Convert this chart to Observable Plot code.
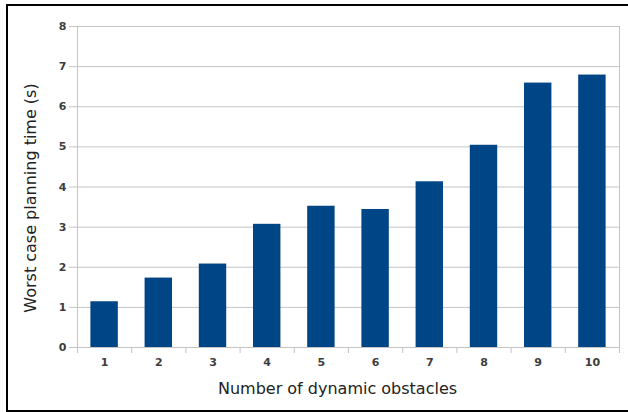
<!DOCTYPE html>
<html>
<head>
<meta charset="utf-8">
<script src="https://cdn.jsdelivr.net/npm/d3@7"></script>
<script src="https://cdn.jsdelivr.net/npm/@observablehq/plot@0.6"></script>
<style>
  html, body { margin: 0; padding: 0; width: 628px; height: 412px; overflow: hidden; background: #fff; }
  #border { position: absolute; left: 6px; top: 4px; width: 660px; height: 408px; border: 2px solid #000; box-sizing: border-box; }
  #chart { position: absolute; left: 0; top: 0; }
</style>
</head>
<body>
<div id="border"></div>
<div id="chart"></div>
<script>
const obstacles = [1, 2, 3, 4, 5, 6, 7, 8, 9, 10];
const planningTime = [1.14, 1.73, 2.08, 3.07, 3.52, 3.44, 4.13, 5.04, 6.59, 6.79];
const yTicks = [0, 1, 2, 3, 4, 5, 6, 7, 8];
const xLabel = "Number of dynamic obstacles";
const yLabel = "Worst case planning time (s)";

const data = obstacles.map((n, i) => ({n, t: planningTime[i]}));
const boundaries = [...obstacles.map(n => n - 0.5), obstacles[obstacles.length - 1] + 0.5];
const halfBar = 0.253;

const chart = Plot.plot({
  width: 628,
  height: 412,
  marginLeft: 77,
  marginRight: 9,
  marginTop: 26,
  marginBottom: 65,
  style: {fontFamily: "DejaVu Sans", fontSize: "11px", color: "#3d3d3d", background: "transparent"},
  x: {type: "linear", domain: [0.5, 10.5]},
  y: {domain: [0, 8]},
  marks: [
    Plot.gridY(yTicks, {stroke: "#c4c4c4", strokeOpacity: 1}),
    Plot.rectY(data, {x1: d => d.n - halfBar, x2: d => d.n + halfBar, y: "t", fill: "#004586"}),
    Plot.frame({stroke: "#c4c4c4"}),
    Plot.axisY(yTicks, {tickSize: 8, tickPadding: 3, stroke: "#c4c4c4", fill: "#3d3d3d", label: null, fontWeight: "bold"}),
    Plot.axisX(boundaries, {tickSize: 6, stroke: "#c4c4c4", tickFormat: () => "", label: null}),
    Plot.axisX(obstacles, {tickSize: 0, tickPadding: 11, fill: "#3d3d3d", label: null, fontWeight: "bold"}),
    Plot.text([xLabel], {frameAnchor: "bottom", dy: 41, dx: -11, fontSize: 16, fill: "#222", lineAnchor: "middle", textAnchor: "middle"}),
    Plot.text([yLabel], {frameAnchor: "left", dx: -47, dy: 11, rotate: -90, fontSize: 16, fill: "#222", lineAnchor: "middle", textAnchor: "middle"})
  ]
});
document.getElementById("chart").appendChild(chart);
</script>
</body>
</html>
